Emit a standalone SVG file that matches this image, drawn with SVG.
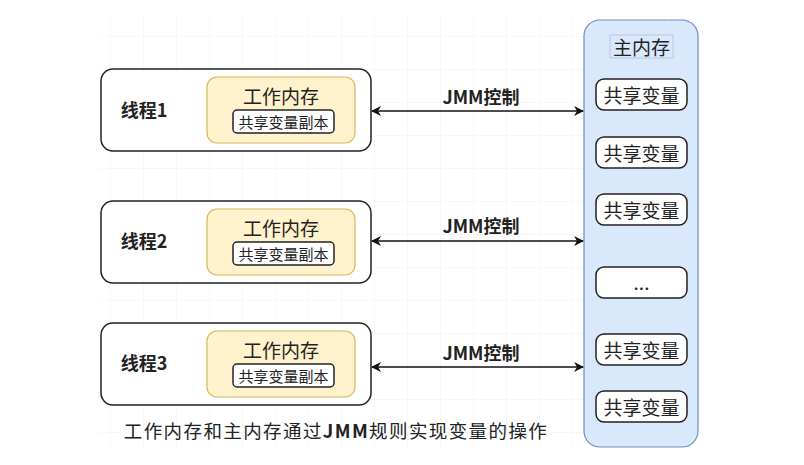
<svg xmlns="http://www.w3.org/2000/svg" width="804" height="465" viewBox="0 0 804 465">
<defs>
<pattern id="grid" width="33" height="33" patternUnits="userSpaceOnUse" x="110" y="3">
<path d="M0 0H33M0 0V33" fill="none" stroke="#f0f0f0" stroke-width="1"/>
</pattern>
<marker id="arr" viewBox="0 0 10 10" refX="9" refY="5" markerWidth="10" markerHeight="10" markerUnits="userSpaceOnUse" orient="auto-start-reverse">
<path d="M0 0L10 5L0 10L3 5Z" fill="#111"/>
</marker>
</defs>
<style>
.thread{fill:#fff;stroke:#222;stroke-width:1.5}
.work{fill:#fff2cc;stroke:#d6b656;stroke-width:1.2}
.copy{fill:#fff;stroke:#222;stroke-width:1.5}
.var{fill:#fff;stroke:#222;stroke-width:1.5}
.main{fill:#dae8fc;stroke:#6c8ebf;stroke-width:1.2}
text{font-family:"Noto Sans CJK SC","Liberation Sans",sans-serif;fill:#222;text-anchor:middle;dominant-baseline:central}
.tl{font-size:18px;font-weight:bold}
.wl{font-size:19px}
.cl{font-size:15px}
.vl{font-size:19px}
.jl{font-size:18px;font-weight:bold}
.bl{font-size:18.5px;letter-spacing:1.4px}
.conn{stroke:#111;stroke-width:1.3;fill:none;marker-start:url(#arr);marker-end:url(#arr)}
</style>
<rect width="804" height="465" fill="#fff"/>
<rect x="100" y="15" width="600" height="435" fill="url(#grid)"/>

<g id="thread1">
<rect class="thread" x="101" y="69" width="270" height="82" rx="12"/>
<text class="tl" x="144" y="109">线程1</text>
<rect class="work" x="207" y="77" width="148" height="66" rx="10"/>
<text class="wl" x="281" y="95">工作内存</text>
<rect class="copy" x="233" y="110" width="101" height="23" rx="4"/>
<text class="cl" x="283.5" y="121.5">共享变量副本</text>
</g>
<g id="thread2">
<rect class="thread" x="101" y="201" width="270" height="82" rx="12"/>
<text class="tl" x="144" y="240">线程2</text>
<rect class="work" x="207" y="209" width="148" height="66" rx="10"/>
<text class="wl" x="281" y="227">工作内存</text>
<rect class="copy" x="233" y="242" width="101" height="23" rx="4"/>
<text class="cl" x="283.5" y="253.5">共享变量副本</text>
</g>
<g id="thread3">
<rect class="thread" x="101" y="323" width="270" height="82" rx="12"/>
<text class="tl" x="144" y="362">线程3</text>
<rect class="work" x="207" y="331" width="148" height="66" rx="10"/>
<text class="wl" x="281" y="349">工作内存</text>
<rect class="copy" x="233" y="364" width="101" height="23" rx="4"/>
<text class="cl" x="283.5" y="375.5">共享变量副本</text>
</g>

<g id="mainmem">
<rect class="main" x="584" y="20" width="114" height="427" rx="16"/>
<rect x="610" y="35" width="63" height="23" fill="#dae8fc" stroke="#b8c8e0" stroke-width="1"/>
<text class="vl" x="641.5" y="46.5">主内存</text>
</g>
<g id="var1"><rect class="var" x="596" y="79" width="91" height="31" rx="8"/><text class="vl" x="641.5" y="94.5">共享变量</text></g>
<g id="var2"><rect class="var" x="596" y="137" width="91" height="31" rx="8"/><text class="vl" x="641.5" y="152.5">共享变量</text></g>
<g id="var3"><rect class="var" x="596" y="194" width="91" height="31" rx="8"/><text class="vl" x="641.5" y="209.5">共享变量</text></g>
<g id="var4"><rect class="var" x="596" y="267" width="91" height="31" rx="8"/><text class="vl" x="641.5" y="281.5">...</text></g>
<g id="var5"><rect class="var" x="596" y="334" width="91" height="31" rx="8"/><text class="vl" x="641.5" y="349.5">共享变量</text></g>
<g id="var6"><rect class="var" x="596" y="391" width="91" height="31" rx="8"/><text class="vl" x="641.5" y="406.5">共享变量</text></g>

<g id="connectors">
<line class="conn" x1="372" y1="111" x2="583" y2="111"/>
<line class="conn" x1="372" y1="241" x2="583" y2="241"/>
<line class="conn" x1="372" y1="367" x2="583" y2="367"/>
<text class="jl" x="481" y="96">JMM控制</text>
<text class="jl" x="481" y="225">JMM控制</text>
<text class="jl" x="481" y="352">JMM控制</text>
</g>

<text class="bl" x="336" y="430">工作内存和主内存通过<tspan font-weight="bold">JMM</tspan>规则实现变量的操作</text>
</svg>
